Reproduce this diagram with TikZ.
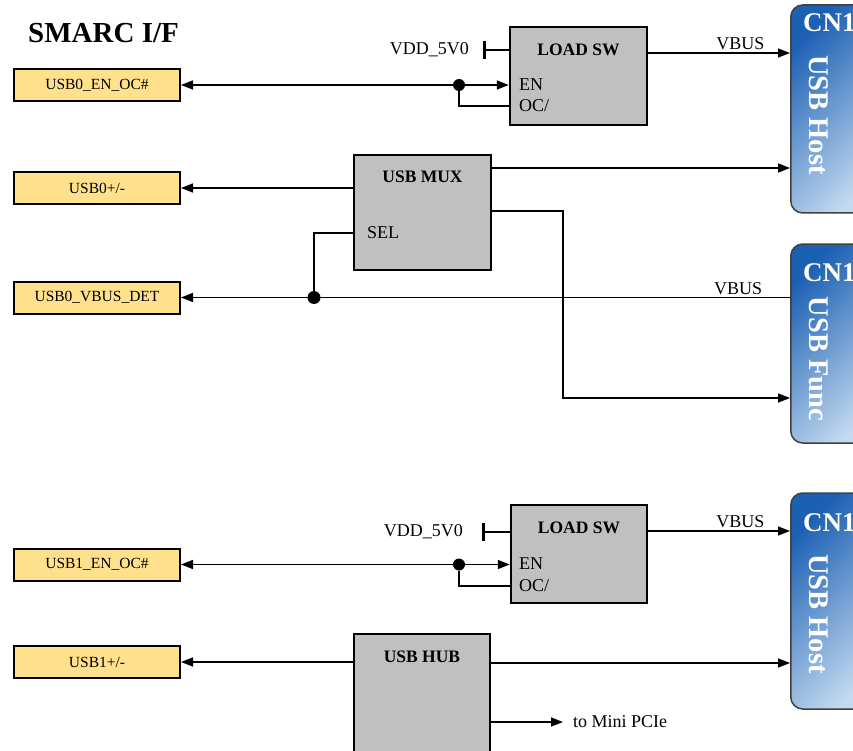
\documentclass[tikz,border=0pt]{standalone}
\usepackage{fontspec}
\setmainfont{Liberation Serif}
\usetikzlibrary{arrows.meta,positioning}

\definecolor{pinyellow}{HTML}{FFE08C}
\definecolor{blockgray}{HTML}{C0C0C0}
\definecolor{cnblue}{HTML}{1C60B3}
\definecolor{cnpale}{HTML}{C2D9EF}

\tikzset{
  sig/.style={line width=1.5pt},
  arr/.style={sig, -{Triangle[length=12pt,width=9pt]}},
  vdd/.style={sig, {Bar[width=18pt,line width=2.5pt]}-},
  pin/.style={draw, line width=2pt, fill=pinyellow, minimum width=166pt, minimum height=32pt,
    inner sep=0pt, font=\fontsize{15.5}{18}\selectfont},
  blk/.style={draw, line width=2.5pt, fill=blockgray, inner sep=0pt},
  blkname/.style={font=\fontsize{17.5}{20}\bfseries\selectfont, inner sep=0pt},
  lbl/.style={font=\fontsize{18}{20}\selectfont, inner sep=2pt},
  port/.style={lbl, anchor=west, inner sep=0pt},
  dot/.style={circle, fill, inner sep=0pt, minimum size=12pt},
  cnbox/.style={draw=black!75, line width=1.5pt, rounded corners=12pt, anchor=west,
    minimum width=90pt, left color=cnblue, right color=cnpale, shading angle=45},
  cnname/.style={text=white, font=\fontsize{27}{29}\bfseries\selectfont, anchor=west, inner sep=0pt},
  cntype/.style={text=white, font=\fontsize{28.5}{30}\bfseries\selectfont, rotate=-90, inner sep=0pt},
}

\begin{document}
\begin{tikzpicture}[x=1pt, y=-1pt]
  \useasboundingbox (0,0) rectangle (853,751);
  \clip (0,0) rectangle (853,751);

  \node[font=\fontsize{29}{32}\bfseries\selectfont, anchor=west, inner sep=0pt] (title) at (28,33) {SMARC I/F};

  % SMARC side
  \node[pin] (en0) at (97,85) {USB0\_EN\_OC\#};
  \node[pin] (dp0) at (97,188) {USB0+/-};
  \node[pin] (det0) at (97,297.5) {USB0\_VBUS\_DET};
  \node[pin] (en1) at (97,564.5) {USB1\_EN\_OC\#};
  \node[pin] (dp1) at (97,662) {USB1+/-};

  % connectors
  \node[cnbox, minimum height=208pt] (cnA) at (790,109) {};
  \node[cnbox, minimum height=199pt] (cnB) at (790,343.5) {};
  \node[cnbox, minimum height=216pt] (cnC) at (790,601) {};
  \node[cnname] (cnAname) at (803,23) {CN1};
  \node[cnname] (cnBname) at (803,273) {CN1};
  \node[cnname] (cnCname) at (803,523) {CN1};
  \node[cntype] (cnAtype) at (819,115) {USB Host};
  \node[cntype] (cnBtype) at (819,359) {USB Func};
  \node[cntype] (cnCtype) at (819,614) {USB Host};

  % USB0 load switch
  \node[blk, minimum width=137pt, minimum height=98pt] (swA) at (578.5,76) {};
  \node[blkname] (swAname) at (578.5,50) {LOAD SW};
  \node[port] (enA) at (519,85) {EN};
  \node[port] (ocA) at (519,106) {OC/};
  \node[lbl, anchor=east, inner sep=0pt] (vddA) at (469,50) {VDD\_5V0};
  \coordinate (vtA) at (483,50);
  \node[dot] (jA) at (459,85) {};
  \draw[vdd] (vtA) -- (swA.west |- vtA);
  \draw[arr] (jA) -- (en0.east);
  \draw[arr] (jA) -- (swA.west |- enA);
  \draw[sig] (jA) |- (swA.west |- ocA);
  \draw[arr] (swA.east |- 0,53) -- node[lbl, pos=0.65, above] {VBUS} (cnA.west |- 0,53);

  % USB0 mux
  \node[blk, minimum width=137pt, minimum height=115pt] (mux) at (422.5,212.5) {};
  \node[blkname] (muxname) at (422.5,177) {USB MUX};
  \node[port] (sel) at (367,233) {SEL};
  \node[dot, minimum size=13pt] (jB) at (314,297.5) {};
  \coordinate (bend) at (563,398);
  \draw[arr] (mux.west |- dp0) -- (dp0.east);
  \draw[arr] (mux.east |- 0,168) -- (cnA.west |- 0,168);
  \draw[arr] (mux.east |- 0,211) -| (bend) -- (cnB.west |- bend);
  \draw[sig] (mux.west |- sel) -| (jB);
  \draw[arr] (cnB.west |- jB) -- node[lbl, pos=0.085, above] {VBUS} (det0.east);

  % USB1 load switch
  \node[blk, minimum width=136pt, minimum height=98pt] (swB) at (579,554) {};
  \node[blkname] (swBname) at (579,528) {LOAD SW};
  \node[port] (enB) at (519,564) {EN};
  \node[port] (ocB) at (519,586) {OC/};
  \node[lbl, anchor=east, inner sep=0pt] (vddB) at (463,532) {VDD\_5V0};
  \coordinate (vtB) at (482,532);
  \node[dot] (jC) at (459,564.5) {};
  \draw[vdd] (vtB) -- (swB.west |- vtB);
  \draw[arr] (jC) -- (en1.east);
  \draw[arr] (jC) -- (swB.west |- jC);
  \draw[sig] (jC) |- (swB.west |- ocB);
  \draw[arr] (swB.east |- 0,531) -- node[lbl, pos=0.65, above] {VBUS} (cnC.west |- 0,531);

  % USB1 hub
  \node[blk, minimum width=136pt, minimum height=130pt] (hub) at (422,699) {};
  \node[blkname] (hubname) at (422,657) {USB HUB};
  \node[lbl, anchor=west] (pcie) at (571,722) {to Mini PCIe};
  \draw[arr] (hub.west |- dp1) -- (dp1.east);
  \draw[arr] (hub.east |- 0,663) -- (cnC.west |- 0,663);
  \draw[arr, shorten >=8pt] (hub.east |- pcie) -- (pcie.west);
\end{tikzpicture}
\end{document}
